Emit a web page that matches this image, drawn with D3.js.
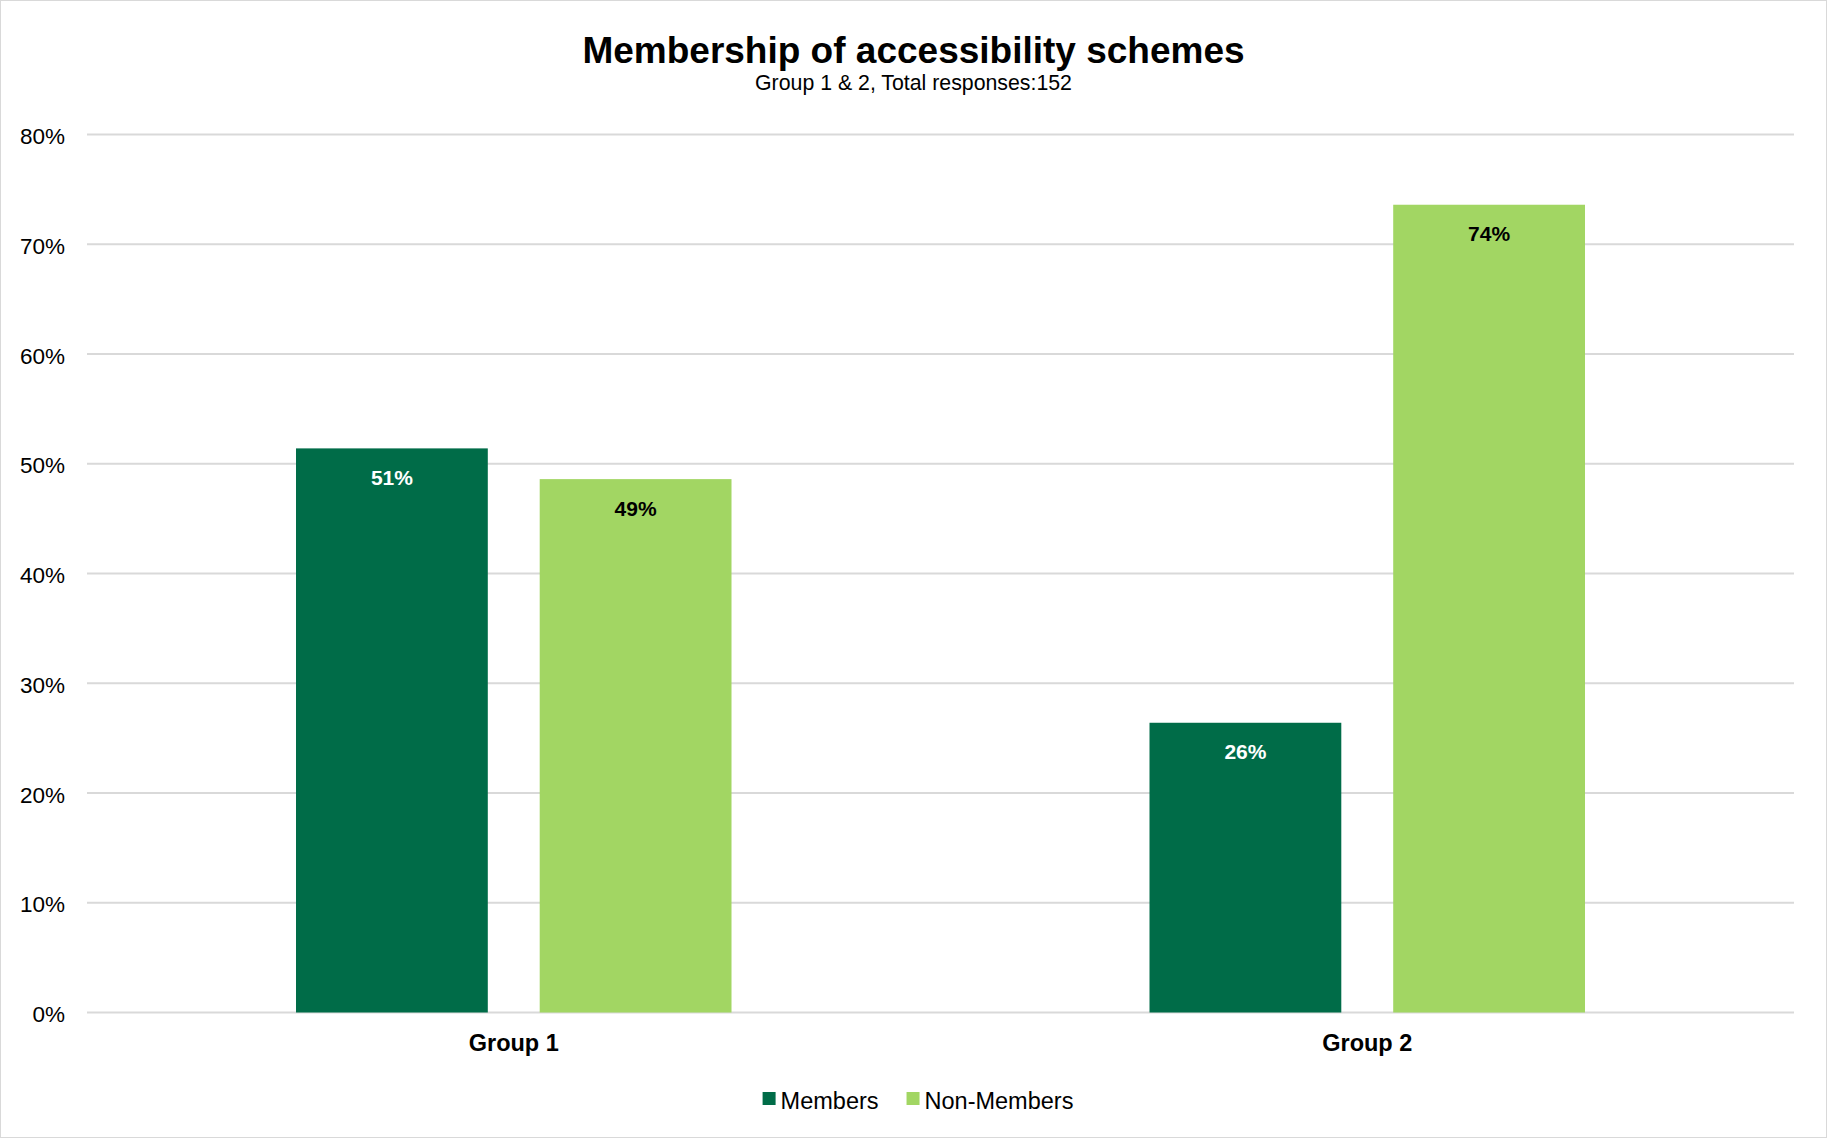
<!DOCTYPE html>
<html>
<head>
<meta charset="utf-8">
<script src="https://cdn.jsdelivr.net/npm/d3@7"></script>
<style>
  html, body { margin: 0; padding: 0; background: #fff; }
  svg { display: block; font-family: "Liberation Sans", Arial, sans-serif; }
</style>
</head>
<body>
<svg id="chart" width="1827" height="1138"></svg>
<script>
const groups = ["Group 1", "Group 2"];
const seriesNames = ["Members", "Non-Members"];
const members = [0.514, 0.264];
const nonMembers = [0.486, 0.736];
const yTicks = [0, 0.1, 0.2, 0.3, 0.4, 0.5, 0.6, 0.7, 0.8];
const titleText = "Membership of accessibility schemes";
const subtitleText = "Group 1 & 2, Total responses:152";

const colors = { "Members": "#006C48", "Non-Members": "#A2D663" };
const labelColors = { "Members": "#ffffff", "Non-Members": "#000000" };

const W = 1827, H = 1138;
const plot = { left: 87, right: 1794, top: 134.5, bottom: 1012.5 };

const svg = d3.select("#chart");

// border
svg.append("rect").attr("x", 0.5).attr("y", 0.5).attr("width", W - 1).attr("height", H - 1)
  .attr("fill", "#fff").attr("stroke", "#d9d9d9").attr("stroke-width", 1);

const y = d3.scaleLinear().domain([0, 0.8]).range([plot.bottom, plot.top]);
const x0 = d3.scaleBand().domain(groups).range([plot.left, plot.right]).padding(0);
const inset = 209;
const x1 = d3.scaleBand().domain(seriesNames)
  .range([inset, x0.bandwidth() - inset]).paddingInner(0.213).paddingOuter(0);

// gridlines
svg.append("g").selectAll("line").data(yTicks).join("line")
  .attr("x1", plot.left).attr("x2", plot.right)
  .attr("y1", d => y(d)).attr("y2", d => y(d))
  .attr("stroke", "#d9d9d9").attr("stroke-width", 2);

// y axis labels
const yAxis = d3.axisLeft(y).tickValues(yTicks).tickFormat(d3.format(".0%")).tickSize(0).tickPadding(0);
const yg = svg.append("g").attr("transform", `translate(65,0)`).call(yAxis);
yg.select(".domain").remove();
yg.selectAll("text").attr("font-size", "22.5px").attr("fill", "#000")
  .attr("font-family", "'Liberation Sans', Arial, sans-serif").attr("dy", "0.4em");

// data table
const data = groups.map((g, i) => ({
  group: g,
  values: [
    { key: "Members", value: members[i] },
    { key: "Non-Members", value: nonMembers[i] }
  ]
}));

const gGroups = svg.append("g").selectAll("g").data(data).join("g")
  .attr("transform", d => `translate(${x0(d.group)},0)`);

gGroups.selectAll("rect").data(d => d.values).join("rect")
  .attr("x", d => x1(d.key)).attr("width", x1.bandwidth())
  .attr("y", d => y(d.value)).attr("height", d => y(0) - y(d.value))
  .attr("fill", d => colors[d.key]);

gGroups.selectAll("text").data(d => d.values).join("text")
  .attr("x", d => x1(d.key) + x1.bandwidth() / 2)
  .attr("y", d => y(d.value) + 36.5)
  .attr("text-anchor", "middle")
  .attr("font-size", "21px").attr("font-weight", "bold")
  .attr("fill", d => labelColors[d.key])
  .text(d => d3.format(".0%")(d.value));

// x axis labels
const xAxis = d3.axisBottom(x0).tickSize(0).tickPadding(0);
const xg = svg.append("g").attr("transform", `translate(0,1051)`).call(xAxis);
xg.select(".domain").remove();
xg.selectAll("text").attr("font-size", "23.5px").attr("font-weight", "bold").attr("fill", "#000")
  .attr("font-family", "'Liberation Sans', Arial, sans-serif").attr("dy", 0);

// title
svg.append("text").attr("x", W / 2).attr("y", 63).attr("text-anchor", "middle")
  .attr("font-size", "37px").attr("font-weight", "bold").attr("fill", "#000").text(titleText);
svg.append("text").attr("x", W / 2).attr("y", 90).attr("text-anchor", "middle")
  .attr("font-size", "21.3px").attr("fill", "#000").text(subtitleText);

// legend
const legend = svg.append("g");
let lx = 0;
seriesNames.forEach((s) => {
  const it = legend.append("g").attr("transform", `translate(${lx},0)`);
  it.append("rect").attr("x", 0).attr("y", -17).attr("width", 13).attr("height", 13).attr("fill", colors[s]);
  const t = it.append("text").attr("x", 18).attr("y", 0).attr("font-size", "23.5px").attr("fill", "#000").text(s);
  const w = t.node().getComputedTextLength();
  lx += 18 + w + 28;
});
const legendW = lx - 28;
legend.attr("transform", `translate(${918 - legendW / 2},1109)`);
</script>
</body>
</html>
